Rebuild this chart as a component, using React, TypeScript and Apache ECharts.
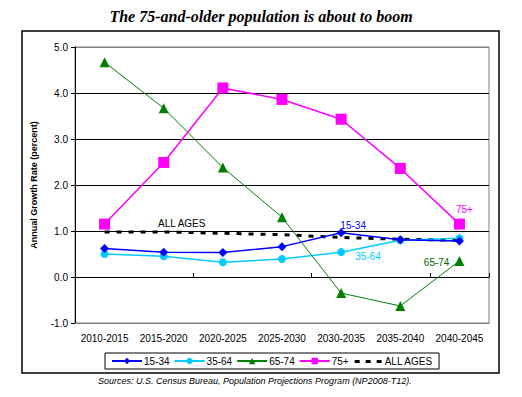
import React, { useEffect, useRef } from "react";
import * as echarts from "echarts";

const categories = ["2010-2015", "2015-2020", "2020-2025", "2025-2030", "2030-2035", "2035-2040", "2040-2045"];
const s1534 = [0.62, 0.54, 0.53, 0.66, 0.96, 0.81, 0.78];
const s3564 = [0.5, 0.45, 0.32, 0.39, 0.54, 0.8, 0.84];
const s6574 = [4.67, 3.67, 2.38, 1.3, -0.35, -0.63, 0.35];
const s75 = [1.15, 2.49, 4.11, 3.86, 3.43, 2.36, 1.15];
const sAll = [0.98, 0.98, 0.95, 0.92, 0.86, 0.82, 0.8];
const yTicks = [-1, 0, 1, 2, 3, 4, 5];

const titleText = "The 75-and-older population is about to boom";
const sourceText = "Sources: U.S. Census Bureau, Population Projections Program (NP2008-T12).";

const dashIcon =
  "path://M0,0h0.01v0.01h-0.01z M30,8h0.01v0.01h-0.01z M2,3h5v3h-5z M13,3h5v3h-5z M24,3h5v3h-5z";

function withLabel(values: number[], idx: number, label: any) {
  return values.map((v, i) => (i === idx ? { value: v, label: { show: true, ...label } } : v));
}

export default function App() {
  const ref = useRef<HTMLDivElement>(null);
  useEffect(() => {
    if (!ref.current) return;
    const chart = echarts.init(ref.current, null, { renderer: "svg" });
    const font = "Arial, 'Liberation Sans', sans-serif";
    chart.setOption({
      animation: false,
      textStyle: { fontFamily: font },
      grid: { left: 75, right: 33, top: 47, bottom: 74, show: true, borderColor: "#808080", borderWidth: 1 },
      xAxis: [
        {
          type: "category",
          data: categories,
          position: "bottom",
          axisLine: { onZero: false, lineStyle: { color: "#808080" } },
          axisTick: { show: false },
          axisLabel: { color: "#000", fontSize: 10, margin: 10, interval: 0 },
        },
        {
          type: "category",
          data: categories,
          axisLine: { onZero: true, lineStyle: { color: "#000", width: 1 } },
          axisTick: { show: true, length: 4, lineStyle: { color: "#000" } },
          axisLabel: { show: false },
        },
      ],
      yAxis: {
        type: "value",
        min: -1,
        max: 5,
        interval: 1,
        name: "Annual Growth Rate (percent)",
        nameLocation: "middle",
        nameGap: 37,
        nameTextStyle: { fontSize: 9, fontWeight: "bold", color: "#000" },
        axisLine: { show: true, lineStyle: { color: "#000" } },
        axisTick: { show: true, length: 4, lineStyle: { color: "#000" } },
        axisLabel: {
          color: "#000",
          fontSize: 10,
          margin: 7,
          formatter: (v: number) => (yTicks.includes(v) ? v.toFixed(1) : ""),
        },
        splitLine: {
          show: true,
          lineStyle: { color: ["#808080", "#000", "#000", "#000", "#000", "#000", "#808080"], width: 1 },
        },
      },
      legend: {
        left: 105,
        top: 353,
        itemWidth: 30,
        itemHeight: 8,
        itemGap: 4,
        padding: [3, 6, 3, 6],
        borderColor: "#000",
        borderWidth: 1,
        textStyle: { fontSize: 10, color: "#000", padding: [0, 0, 0, -3] },
        data: ["15-34", "35-64", "65-74", "75+", { name: "ALL AGES", icon: dashIcon }],
      },
      series: [
        {
          name: "ALL AGES",
          type: "line",
          data: sAll,
          symbol: "none",
          lineStyle: { color: "#000", width: 3, type: [5, 7] },
          itemStyle: { color: "#000" },
          markPoint: {
            symbol: "circle",
            symbolSize: 0,
            silent: true,
            data: [
              {
                coord: [categories[1], sAll[1]],
                label: {
                  show: true,
                  position: "top",
                  distance: 3,
                  offset: [18, 0],
                  formatter: "ALL AGES",
                  color: "#000",
                  fontSize: 10,
                },
              },
            ],
          },
          z: 1,
        },
        {
          name: "15-34",
          type: "line",
          data: withLabel(s1534, 4, { position: "top", offset: [12, 7], formatter: "15-34", color: "#0000ff", fontSize: 10 }),
          symbol: "diamond",
          symbolSize: 9,
          lineStyle: { color: "#0000ff", width: 1.5 },
          itemStyle: { color: "#0000ff" },
          z: 3,
        },
        {
          name: "35-64",
          type: "line",
          data: withLabel(s3564, 4, { position: "right", offset: [5, 4], formatter: "35-64", color: "#00ccff", fontSize: 10 }),
          symbol: "circle",
          symbolSize: 8,
          lineStyle: { color: "#00ccff", width: 1.5 },
          itemStyle: { color: "#00ccff" },
          z: 2,
        },
        {
          name: "65-74",
          type: "line",
          data: withLabel(s6574, 6, { position: "left", offset: [0, 2], formatter: "65-74", color: "#006400", fontSize: 10 }),
          symbol: "triangle",
          symbolSize: 10,
          lineStyle: { color: "#008000", width: 1 },
          itemStyle: { color: "#008000" },
          z: 4,
        },
        {
          name: "75+",
          type: "line",
          data: withLabel(s75, 6, { position: "top", offset: [5, 1], formatter: "75+", color: "#ff00ff", fontSize: 10 }),
          symbol: "rect",
          symbolSize: 11,
          lineStyle: { color: "#ff00ff", width: 1.5 },
          itemStyle: { color: "#ff00ff" },
          z: 5,
        },
      ],
      graphic: [
        {
          type: "rect",
          shape: { x: 22, y: 31, width: 477, height: 342 },
          style: { fill: "none", stroke: "#000", lineWidth: 1.5 },
          z: -1,
        },
        {
          type: "text",
          x: 261,
          y: 16,
          style: {
            text: titleText,
            fontFamily: "'Liberation Serif', 'Times New Roman', serif",
            fontSize: 16,
            fontWeight: "bold",
            fontStyle: "italic",
            fill: "#000",
            align: "center",
            verticalAlign: "middle",
          },
        },
        {
          type: "text",
          x: 98,
          y: 381,
          style: {
            text: sourceText,
            fontFamily: font,
            fontSize: 9,
            fontStyle: "italic",
            fill: "#000",
            align: "left",
            verticalAlign: "middle",
          },
        },
      ],
    });
    return () => chart.dispose();
  }, []);
  return <div ref={ref} style={{ position: "absolute", left: 0, top: 0, width: 522, height: 397 }} />;
}
